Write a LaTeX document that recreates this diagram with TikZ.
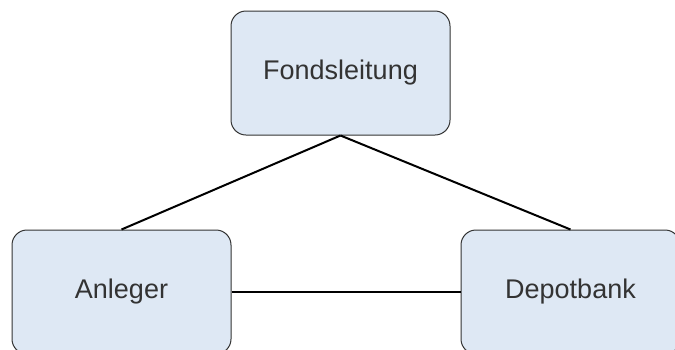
\documentclass[tikz,border=0pt]{standalone}
\usepackage{fontspec}
\setmainfont{Liberation Sans}
\definecolor{boxfill}{HTML}{DEE8F4}
\definecolor{boxdraw}{HTML}{333333}
\definecolor{txt}{HTML}{333333}
\begin{document}
\begin{tikzpicture}[x=1pt,y=-1pt,
  entity/.style={draw=boxdraw, line width=1pt, fill=boxfill, rounded corners=15pt,
    minimum width=219pt, minimum height=124pt, inner sep=0pt, text=txt,
    font=\fontsize{27}{32}\selectfont},
  link/.style={draw=black, line width=2pt}]
\useasboundingbox (0,0) rectangle (675,349);
\node[entity] (fl) at (340.5,73) {Fondsleitung};
\node[entity] (an) at (121.5,292) {Anleger};
\node[entity] (db) at (570.5,292) {Depotbank};
\draw[link] (fl.south) -- (an.north);
\draw[link] (fl.south) -- (db.north);
\draw[link] (an.east) -- (db.west);
\end{tikzpicture}
\end{document}
